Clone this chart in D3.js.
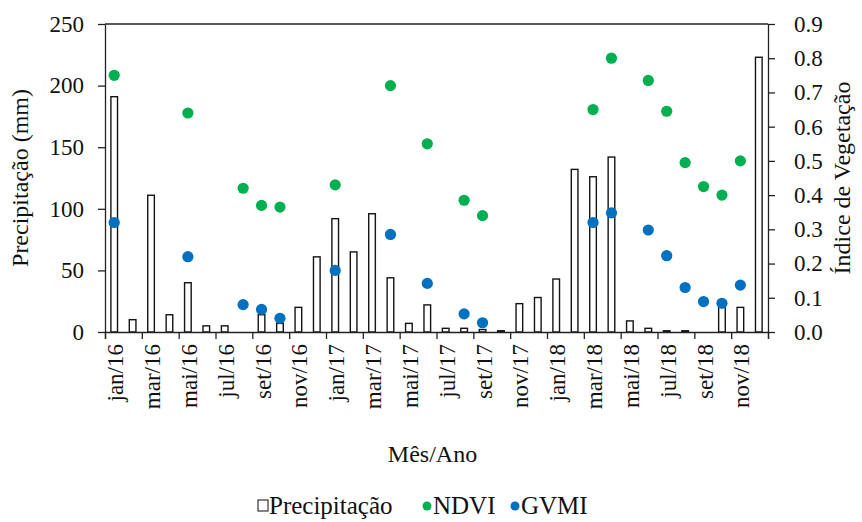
<!DOCTYPE html>
<html lang="pt">
<head>
<meta charset="UTF-8">
<title>Precipitação e Índices de Vegetação</title>
<script src="https://d3js.org/d3.v7.min.js"></script>
<style>
    body { margin: 0; background: #fff; }
</style>
</head>
<body>
<div id="chart"></div>
<script>
    // meses (jan/16 .. dez/18)
    var months = ["jan/16","fev/16","mar/16","abr/16","mai/16","jun/16","jul/16","ago/16","set/16","out/16","nov/16","dez/16",
                  "jan/17","fev/17","mar/17","abr/17","mai/17","jun/17","jul/17","ago/17","set/17","out/17","nov/17","dez/17",
                  "jan/18","fev/18","mar/18","abr/18","mai/18","jun/18","jul/18","ago/18","set/18","out/18","nov/18","dez/18"];

    // precipitação mensal (mm)
    var precip = [191, 10, 111, 14, 40, 5, 5, 0, 14, 7, 20, 61,
                  92, 65, 96, 44, 7, 22, 3, 3, 2, 1, 23, 28,
                  43, 132, 126, 142, 9, 3, 1, 1, 0, 20, 20, 223];

    // NDVI e GVMI (null = sem imagem)
    var ndvi = [0.75, null, null, null, 0.64, null, null, 0.42, 0.37, 0.365, null, null,
                0.43, null, null, 0.72, null, 0.55, null, 0.385, 0.34, null, null, null,
                null, null, 0.65, 0.80, null, 0.735, 0.645, 0.495, 0.425, 0.40, 0.50, null];
    var gvmi = [0.32, null, null, null, 0.22, null, null, 0.08, 0.066, 0.04, null, null,
                0.18, null, null, 0.285, null, 0.142, null, 0.053, 0.027, null, null, null,
                null, null, 0.32, 0.348, null, 0.298, 0.223, 0.13, 0.089, 0.084, 0.137, null];

    var leftTicks = [0, 50, 100, 150, 200, 250];
    var rightTicks = [0, 0.1, 0.2, 0.3, 0.4, 0.5, 0.6, 0.7, 0.8, 0.9];

    var FONT = "'Liberation Serif', 'Times New Roman', 'DejaVu Serif', serif";

    var W = 862, H = 522;
    var margin = {top: 24, right: 94, bottom: 190, left: 105},
        width = W - margin.left - margin.right,
        height = H - margin.top - margin.bottom;

    var svg = d3.select("#chart").append("svg")
        .attr("width", W).attr("height", H)
        .style("font-family", FONT)
        .append("g")
        .attr("transform", "translate(" + margin.left + "," + margin.top + ")");

    // scales
    var x = d3.scaleBand().domain(months).range([0, width]);
    var xPos = d3.scaleLinear().domain([0, months.length]).range([0, width]);
    var yL = d3.scaleLinear().domain([0, 250]).range([height, 0]);
    var yR = d3.scaleLinear().domain([0, 0.9]).range([height, 0]);

    // top border
    svg.append("line")
        .attr("x1", 0).attr("x2", width).attr("y1", 0).attr("y2", 0)
        .attr("stroke", "#222").attr("stroke-width", 1.3);

    // bars
    var bw = x.bandwidth() * 0.36;
    svg.selectAll("rect.bar")
        .data(precip)
        .enter()
        .append("rect")
        .attr("class", "bar")
        .attr("x", function(d, i) { return x(months[i]) + (x.bandwidth() - bw) / 2; })
        .attr("y", function(d) { return yL(d); })
        .attr("width", bw)
        .attr("height", function(d) { return height - yL(d); })
        .attr("fill", "#fff")
        .attr("stroke", "#141414")
        .attr("stroke-width", 1.4)
        .style("display", function(d) { return d > 0 ? null : "none"; });

    // dots
    function dots(vals, color) {
        svg.selectAll(null)
            .data(vals.map(function(v, i) { return {m: months[i], v: v}; }).filter(function(d) { return d.v != null; }))
            .enter()
            .append("circle")
            .attr("cx", function(d) { return x(d.m) + x.bandwidth() / 2; })
            .attr("cy", function(d) { return yR(d.v); })
            .attr("r", 5.6)
            .attr("fill", color);
    }
    dots(ndvi, "#00b050");
    dots(gvmi, "#0070c0");

    // left axis
    var gl = svg.append("g")
        .call(d3.axisLeft(yL).tickValues(leftTicks).tickSize(7).tickPadding(14).tickSizeOuter(0));

    // right axis
    var gr = svg.append("g")
        .attr("transform", "translate(" + width + ",0)")
        .call(d3.axisRight(yR).tickValues(rightTicks).tickSize(7).tickPadding(19).tickSizeOuter(0)
            .tickFormat(d3.format(".1f")));

    // x axis: tick marks every two months
    svg.append("g")
        .attr("transform", "translate(0," + height + ")")
        .call(d3.axisBottom(xPos).tickValues(d3.range(0, months.length + 1, 2)).tickSize(7).tickFormat(""));

    // x axis labels
    var gx = svg.append("g")
        .attr("transform", "translate(0," + height + ")")
        .call(d3.axisBottom(x).tickValues(months.filter(function(d, i) { return i % 2 === 0; })).tickSize(0));
    gx.select(".domain").remove();
    gx.selectAll("text")
        .attr("text-anchor", "end")
        .attr("transform", "rotate(-90)")
        .attr("x", -12)
        .attr("y", 1)
        .attr("dy", "0.35em");

    [gl, gr, gx].forEach(function(g) {
        g.attr("font-family", null).attr("font-size", null);
        g.selectAll("text").style("font-size", "23px").style("font-family", FONT).attr("fill", "#111");
    });

    svg.selectAll(".domain").attr("stroke", "#222").attr("stroke-width", 1.3);
    svg.selectAll(".tick line").attr("stroke", "#222").attr("stroke-width", 1.3);

    // axis titles
    function label(txt, size) {
        return svg.append("text")
            .attr("text-anchor", "middle")
            .attr("fill", "#111")
            .style("font-family", FONT)
            .style("font-size", size + "px")
            .text(txt);
    }
    label("Precipitação (mm)", 24)
        .attr("transform", "translate(" + (-margin.left + 28) + "," + (height / 2) + ")rotate(-90)");
    label("Índice de Vegetação", 24)
        .attr("transform", "translate(" + (width + 82) + "," + (height / 2) + ")rotate(-90)");
    label("Mês/Ano", 24)
        .attr("x", width / 2 - 4).attr("y", 438);

    // legend
    var lg = svg.append("g").attr("transform", "translate(0,482)");
    lg.append("rect")
        .attr("x", 153).attr("y", -6).attr("width", 10).attr("height", 11)
        .attr("fill", "#fff").attr("stroke", "#222").attr("stroke-width", 1.1);
    lg.append("circle").attr("cx", 322).attr("cy", 0).attr("r", 4.5).attr("fill", "#00b050");
    lg.append("circle").attr("cx", 410).attr("cy", 0).attr("r", 4.5).attr("fill", "#0070c0");
    [["Precipitação", 164], ["NDVI", 328], ["GVMI", 416]].forEach(function(e) {
        lg.append("text").attr("x", e[1]).attr("y", 8)
            .attr("fill", "#111")
            .style("font-family", FONT).style("font-size", "25px")
            .text(e[0]);
    });
</script>
</body>
</html>
